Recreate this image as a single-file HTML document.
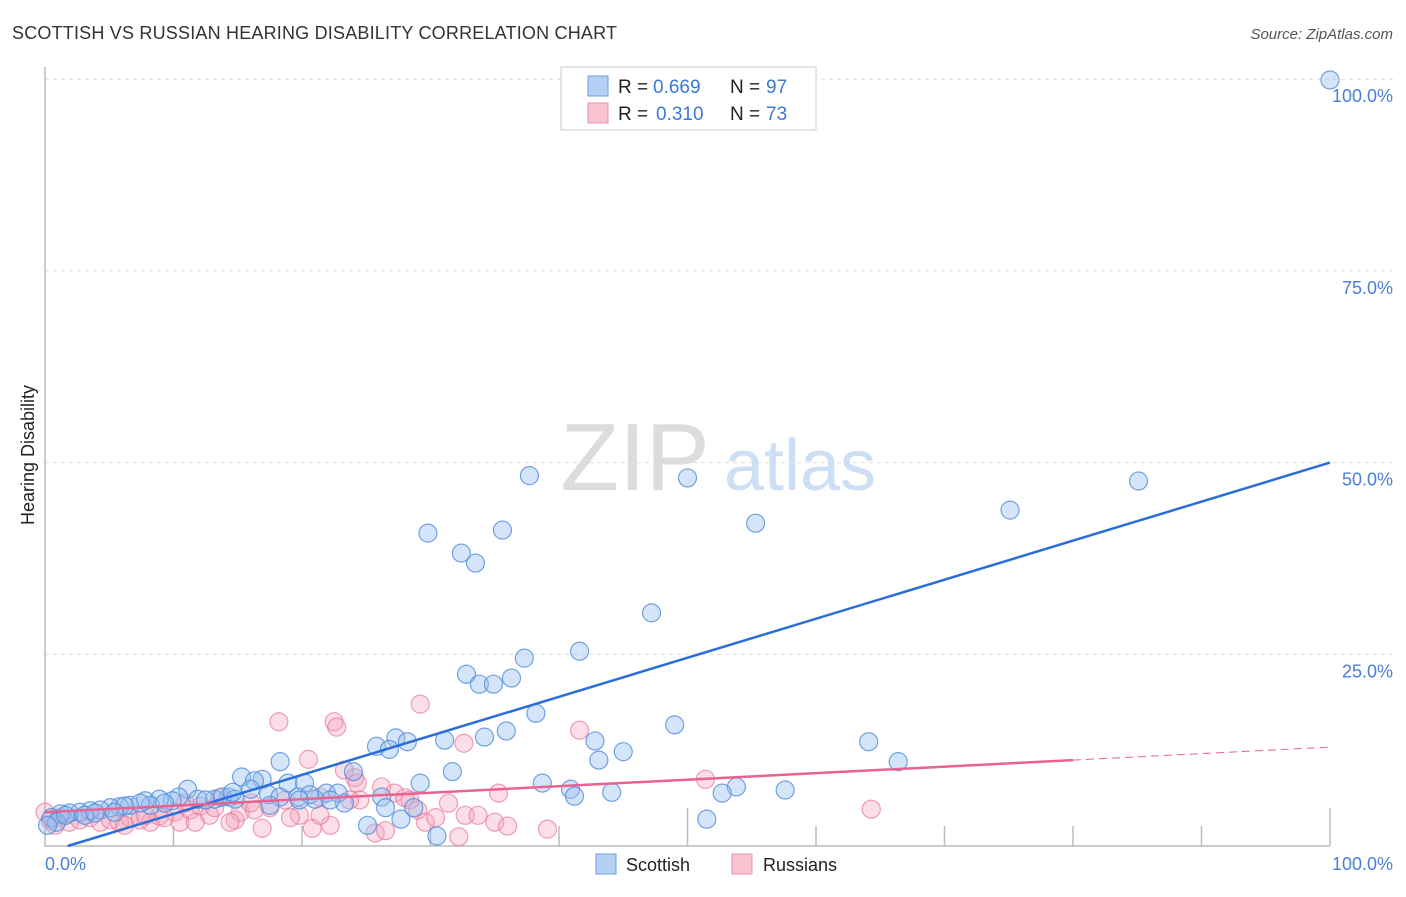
<!DOCTYPE html>
<html><head><meta charset="utf-8"><style>
body{margin:0;background:#fff;font-family:"Liberation Sans",sans-serif}
svg text{font-family:"Liberation Sans",sans-serif}
</style></head><body>
<svg id="chart" width="1406" height="892" xmlns="http://www.w3.org/2000/svg">
<text x="12" y="39" font-size="18" fill="#333" textLength="605">SCOTTISH VS RUSSIAN HEARING DISABILITY CORRELATION CHART</text>
<text x="1393" y="39" font-size="15" fill="#555" font-style="italic" text-anchor="end">Source: ZipAtlas.com</text>
<g>
<text x="635" y="490" font-size="96" fill="#dcdcdc" font-family="Liberation Serif" text-anchor="middle">ZIP</text>
<text x="800" y="490" font-size="72" fill="#cddff4" text-anchor="middle">atlas</text>
</g>
<g id="grid"></g>
<g id="axes"></g>
<g id="pts"></g>
<g id="lines"></g>
<text transform="translate(34,455) rotate(-90)" font-size="18" fill="#222" text-anchor="middle">Hearing Disability</text>
<text x="45" y="870" font-size="18" fill="#4a7fd4">0.0%</text>
<text x="1393" y="870" font-size="18" fill="#4a7fd4" text-anchor="end">100.0%</text>
<g>
<rect x="561" y="67" width="255" height="63" fill="#fff" stroke="#ccc"/>
<rect x="588" y="76" width="20" height="20" fill="#b4d0f4" stroke="#6b9fe0"/>
<rect x="588" y="103" width="20" height="20" fill="#f8c4d2" stroke="#ec8fab"/>
<text x="618" y="93" font-size="19" fill="#222">R =</text>
<text x="653" y="93" font-size="19" fill="#3a78d8">0.669</text>
<text x="730" y="93" font-size="19" fill="#222">N =</text>
<text x="766" y="93" font-size="19" fill="#3a78d8">97</text>
<text x="618" y="120" font-size="19" fill="#222">R =</text>
<text x="656" y="120" font-size="19" fill="#3a78d8">0.310</text>
<text x="730" y="120" font-size="19" fill="#222">N =</text>
<text x="766" y="120" font-size="19" fill="#3a78d8">73</text>
</g>
<g>
<rect x="596" y="854" width="20" height="20" fill="#b4d0f4" stroke="#6b9fe0"/>
<text x="626" y="871" font-size="18" fill="#222">Scottish</text>
<rect x="732" y="854" width="20" height="20" fill="#f8c4d2" stroke="#ec8fab"/>
<text x="763" y="871" font-size="18" fill="#222">Russians</text>
</g>
</svg>
<script>
const yTicks=[25,50,75,100];
const yTickLabels=["25.0%","50.0%","75.0%","100.0%"];
const xTicks=[10,20,30,40,50,60,70,80,90,100];
const scotX=[100,37.7,50.0,85.1,75.1,55.3,29.8,35.6,32.4,33.5,47.2,41.6,37.3,32.8,33.8,34.9,36.3,38.2,49.0,35.9,34.2,31.1,27.3,28.2,25.8,26.8,42.8,45.0,43.1,64.1,66.4,18.3,31.7,24.0,38.7,29.2,40.9,41.2,44.1,53.8,52.7,57.6,51.5,30.5,25.1,27.7,15.3,16.9,16.3,18.9,20.2,21.9,22.8,26.2,21.0,19.7,17.4,11.1,14.3,13.2,11.9,10.4,9.9,8.9,7.8,6.6,5.8,5.1,4.3,3.5,2.7,1.9,1.2,0.5,0.9,0.2,1.6,3.1,3.9,8.2,9.3,12.5,7.4,6.2,23.3,20.6,13.8,14.8,26.5,28.7,18.3,22.2,16.0,19.8,17.5,14.6,5.4];
const scotY=[99.9,48.3,48.0,47.6,43.8,42.1,40.8,41.2,38.2,36.9,30.4,25.4,24.5,22.4,21.1,21.1,21.9,17.3,15.8,15.0,14.2,13.8,14.1,13.6,13.0,12.6,13.7,12.3,11.2,13.6,11.0,11.0,9.7,9.7,8.2,8.2,7.4,6.5,7.0,7.7,6.9,7.3,3.5,1.3,2.7,3.5,9.0,8.7,8.5,8.2,8.2,6.9,6.9,6.4,6.1,6.4,6.7,7.4,6.4,6.1,6.1,6.4,5.9,6.1,5.9,5.3,5.1,5.0,4.7,4.6,4.4,4.3,4.2,3.7,3.1,2.7,4.0,4.0,4.3,5.3,5.6,6.0,5.6,5.2,5.6,6.7,6.4,6.1,5.0,5.0,6.4,6.0,7.4,6.0,5.3,7.0,4.4];
const rusX=[0,0.4,0.8,1.2,1.9,2.7,3.5,4.3,5.1,5.8,6.6,7.4,8.2,8.9,10.1,10.5,11.3,12.1,12.8,13.6,14.8,15.2,16.0,16.9,17.5,18.2,18.7,19.8,20.5,20.8,21.4,22.2,22.5,22.7,23.3,24.1,24.3,24.5,25.7,26.2,26.5,27.2,28.4,29.0,29.6,30.4,29.2,31.4,32.2,32.7,32.6,33.7,35.0,35.3,36.0,39.1,41.6,51.4,64.3,14.4,11.7,9.3,6.2,7.8,10.9,13.2,16.3,19.1,21.4,23.7,28.0];
const rusY=[4.4,3.4,2.7,3.7,3.1,3.4,3.7,3.1,3.4,3.1,3.7,3.4,3.1,3.9,4.4,3.1,4.7,5.2,4.0,6.3,3.4,4.4,5.6,2.3,5.0,16.2,6.0,4.0,11.3,2.3,6.4,2.7,16.2,15.5,9.9,8.9,8.2,6.0,1.7,7.7,2.0,6.9,6.0,4.7,3.1,3.7,18.5,5.6,1.2,4.0,13.4,4.0,3.1,6.9,2.6,2.2,15.1,8.7,4.8,3.1,3.1,3.7,2.7,4.0,5.6,5.0,4.7,3.7,4.0,6.0,6.3];
const scotTrend=[-0.9,0.509];
const rusTrend=[4.4,0.085];
const NS="http://www.w3.org/2000/svg";
const X=v=>45+v*12.85, Y=v=>846-v*7.668;
function mk(tag,attrs,parent){const e=document.createElementNS(NS,tag);for(const k in attrs)e.setAttribute(k,attrs[k]);parent.appendChild(e);return e;}
const grid=document.getElementById('grid'),axes=document.getElementById('axes'),pts=document.getElementById('pts'),lines=document.getElementById('lines');
yTicks.forEach((t,i)=>{
 const g=mk('line',{x1:45,x2:1393,y1:Y(t),y2:Y(t),stroke:'#ddd','stroke-dasharray':'4,4'},grid);
 
 
 const l=mk('text',{x:1393,y:Y(t)+23,'font-size':18,fill:'#4a7fd4','text-anchor':'end'},grid);
 l.textContent=yTickLabels[i];
 
 
});
const ax=mk('path',{d:`M45 67 V846 H1330`,stroke:'#bbb',fill:'none','stroke-width':1.5},axes);


xTicks.forEach(t=>{
 const tk=mk('line',{x1:X(t),x2:X(t),y1:846,y2:(t%50===0)?808:826,stroke:'#bbb','stroke-width':1.5},axes);
 
 
});
rusX.forEach((v,i)=>{
 const c=mk('circle',{cx:X(v),cy:Y(rusY[i]),r:9,fill:'rgba(244,160,185,0.35)',stroke:'rgba(232,120,155,0.7)','stroke-width':1.2},pts);
 
 
});
scotX.forEach((v,i)=>{
 const c=mk('circle',{cx:X(v),cy:Y(scotY[i]),r:9,fill:'rgba(150,190,240,0.4)',stroke:'rgba(80,140,220,0.8)','stroke-width':1.2},pts);
 
 
});
const bx0=(0-scotTrend[0])/scotTrend[1];
const bl=mk('line',{x1:X(bx0),y1:Y(0),x2:X(100),y2:Y(scotTrend[0]+scotTrend[1]*100),stroke:'#2a6fd6','stroke-width':2.5},lines);


const rl=mk('line',{x1:X(0),y1:Y(rusTrend[0]),x2:X(80),y2:Y(rusTrend[0]+rusTrend[1]*80),stroke:'#e8638f','stroke-width':2.5},lines);


const rd=mk('line',{x1:X(80),y1:Y(rusTrend[0]+rusTrend[1]*80),x2:X(100),y2:Y(rusTrend[0]+rusTrend[1]*100),stroke:'#e8638f','stroke-width':1,'stroke-dasharray':'8,5'},lines);


</script>
</body></html>
